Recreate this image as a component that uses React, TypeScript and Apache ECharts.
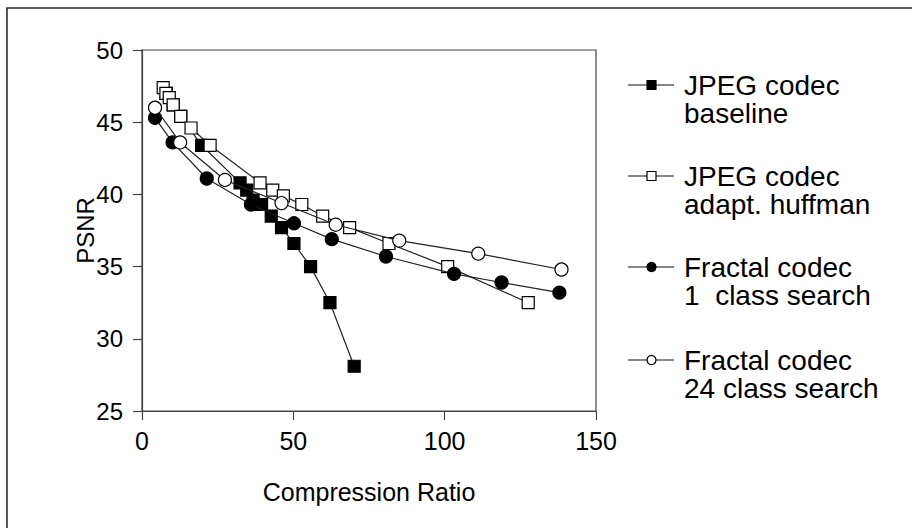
import React, { useEffect, useRef } from "react";
import * as echarts from "echarts";

const seriesNames = [
  "JPEG codec\nbaseline",
  "JPEG codec\nadapt. huffman",
  "Fractal codec\n1  class search",
  "Fractal codec\n24 class search",
];

const jpegBaseline: [number, number][] = [
  [8.0, 47.0], [10.3, 46.2], [12.8, 45.4], [19.7, 43.4], [32.4, 40.8], [34.6, 40.3],
  [36.7, 39.6], [37.3, 39.3], [39.5, 39.3], [42.7, 38.5], [46.1, 37.7], [50.2, 36.6],
  [55.7, 35.0], [62.1, 32.5], [70.1, 28.1],
];

const jpegHuffman: [number, number][] = [
  [7.0, 47.4], [7.9, 47.0], [9.0, 46.7], [10.3, 46.2], [12.8, 45.4], [16.2, 44.6],
  [22.5, 43.4], [39.0, 40.8], [43.2, 40.3], [46.7, 39.9], [52.8, 39.3], [59.7, 38.5],
  [68.6, 37.7], [81.6, 36.6], [101.0, 35.0], [127.6, 32.5],
];

const fractal1: [number, number][] = [
  [4.3, 45.3], [10.1, 43.6], [21.4, 41.1], [36.0, 39.3], [50.2, 38.0], [62.7, 36.9],
  [80.6, 35.7], [103.1, 34.5], [118.8, 33.9], [137.9, 33.2],
];

const fractal24: [number, number][] = [
  [4.3, 46.0], [12.6, 43.6], [27.4, 41.0], [46.1, 39.4], [64.0, 37.9], [85.0, 36.8],
  [111.1, 35.9], [138.6, 34.8],
];

const xTicks = { min: 0, max: 150, interval: 50 };
const yTicks = { min: 25, max: 50, interval: 5 };

const FONT = "'Liberation Sans', Arial, Helvetica, sans-serif";

export default function App() {
  const ref = useRef<HTMLDivElement>(null);
  useEffect(() => {
    if (!ref.current) return;
    const chart = echarts.init(ref.current, null, { renderer: "svg" });

    const styles = [
      { symbol: "rect", fill: "#000" },
      { symbol: "rect", fill: "#fff" },
      { symbol: "circle", fill: "#000" },
      { symbol: "circle", fill: "#fff" },
    ];
    const datas = [jpegBaseline, jpegHuffman, fractal1, fractal24];

    const legendGraphics: any[] = [];
    const entryY = [85, 176, 267, 360];
    seriesNames.forEach((name, i) => {
      const y = entryY[i];
      legendGraphics.push({
        type: "line",
        shape: { x1: 628, y1: y, x2: 674, y2: y },
        style: { stroke: "#111", lineWidth: 1.2 },
      });
      if (styles[i].symbol === "rect") {
        legendGraphics.push({
          type: "rect",
          shape: { x: 647, y: y - 4.5, width: 9, height: 9 },
          style: { fill: styles[i].fill, stroke: "#000", lineWidth: 1.2 },
        });
      } else {
        legendGraphics.push({
          type: "circle",
          shape: { cx: 651.5, cy: y, r: 4.5 },
          style: { fill: styles[i].fill, stroke: "#000", lineWidth: 1.2 },
        });
      }
      legendGraphics.push({
        type: "text",
        x: 684,
        y: y - 14,
        style: {
          text: name,
          font: `28px ${FONT}`,
          fill: "#000",
          lineHeight: 28,
          textVerticalAlign: "top",
        },
      });
    });

    chart.setOption({
      animation: false,
      backgroundColor: "#fff",
      textStyle: { fontFamily: FONT },
      grid: {
        left: 142,
        top: 50,
        right: 316,
        bottom: 117,
        show: true,
        borderColor: "#444",
        borderWidth: 1.2,
        backgroundColor: "transparent",
      },
      xAxis: {
        type: "value",
        min: xTicks.min,
        max: xTicks.max,
        interval: xTicks.interval,
        name: "Compression Ratio",
        nameLocation: "middle",
        nameGap: 68,
        nameMoveOverlap: false,
        nameTextStyle: { fontSize: 25, color: "#000", fontFamily: FONT },
        axisLine: { show: true, onZero: false, lineStyle: { color: "#444", width: 1.2 } },
        axisTick: { show: true, inside: false, length: 9, lineStyle: { color: "#444", width: 1.2 } },
        axisLabel: { fontSize: 25, color: "#000", margin: 17, fontFamily: FONT },
        splitLine: { show: false },
      },
      yAxis: {
        type: "value",
        min: yTicks.min,
        max: yTicks.max,
        interval: yTicks.interval,
        name: "PSNR",
        nameLocation: "middle",
        nameGap: 45,
        nameMoveOverlap: false,
        nameRotate: 90,
        nameTextStyle: { fontSize: 24, color: "#000", fontFamily: FONT },
        axisLine: { show: true, onZero: false, lineStyle: { color: "#444", width: 1.2 } },
        axisTick: { show: true, inside: false, length: 9, lineStyle: { color: "#444", width: 1.2 } },
        axisLabel: { fontSize: 24, color: "#000", margin: 19, fontFamily: FONT },
        splitLine: { show: false },
      },
      series: datas.map((d, i) => ({
        name: seriesNames[i],
        type: "line",
        data: d,
        symbol: styles[i].symbol,
        symbolSize: styles[i].symbol === "rect" ? 12 : 13,
        showAllSymbol: true,
        lineStyle: { color: "#222", width: 1.2 },
        itemStyle: { color: styles[i].fill, borderColor: "#000", borderWidth: 1.2 },
        z: 2 + i,
      })),
      graphic: [
        {
          type: "rect",
          shape: { x: 7, y: 8, width: 1000, height: 1000 },
          style: { fill: "none", stroke: "#222", lineWidth: 1.5 },
          silent: true,
        },
        ...legendGraphics,
      ],
    });
    return () => chart.dispose();
  }, []);

  return (
    <div
      ref={ref}
      style={{ position: "fixed", left: 0, top: 0, width: 912, height: 528 }}
    />
  );
}
